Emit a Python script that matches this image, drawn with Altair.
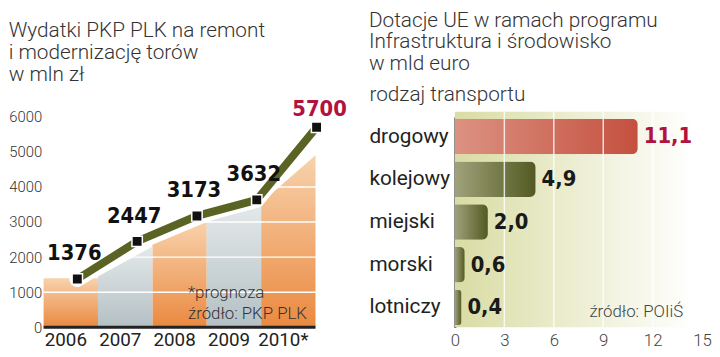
import json
import altair as alt
import pandas as pd

# ---------------- data ----------------
years = ["2006", "2007", "2008", "2009", "2010*"]
spending = [1376, 2447, 3173, 3632, 5700]
band_top_start = [1400, 1450, 2350, 3000, 3550]
band_top_end = [1400, 2300, 3000, 3500, 4900]
y_ticks = [0, 1000, 2000, 3000, 4000, 5000, 6000]

transport = ["drogowy", "kolejowy", "miejski", "morski", "lotniczy"]
subsidy = [11.1, 4.9, 2.0, 0.6, 0.4]
x_ticks = [0, 3, 6, 9, 12, 15]
grid_x = [3, 6, 9, 12]

LIGHT = "Roboto"
BOLD = "Liberation Sans Narrow, DejaVu Sans Condensed, sans-serif"
BSIZE = 22

# ---------------- left chart ----------------
LW, LH = 297, 213
line_df = pd.DataFrame({"idx": list(range(len(years))), "year": years, "val": spending})
band_rows = []
for i in range(len(years)):
    band_rows.append({"band": i, "xpos": i, "val": band_top_start[i]})
    band_rows.append({"band": i, "xpos": i + 1, "val": band_top_end[i]})
band_df = pd.DataFrame(band_rows)
grid_df = pd.DataFrame({"val": y_ticks[1:]})
base_df = pd.DataFrame({"xpos": [0], "xend": [len(years)], "val": [0]})

xscale = alt.Scale(domain=[0, 5.4], nice=False, zero=False)
yscale = alt.Scale(domain=[0, 6000], nice=False)
label_vals = [i + 0.4 for i in range(len(years))]
xaxis = alt.Axis(values=label_vals, labelExpr=f"{json.dumps(years)}[round(datum.value - 0.4)]",
                 title=None, domain=False, ticks=False, grid=False, labelPadding=3,
                 labelFont=LIGHT, labelFontSize=19, labelColor="#222", labelFlush=False)
yaxis = alt.Axis(values=y_ticks, format="d", title=None, domain=False, ticks=False, grid=False,
                 labelPadding=2, labelFont=LIGHT, labelFontWeight=300, labelFontSize=15,
                 labelColor="#333")
X = alt.X("xpos:Q", scale=xscale, axis=xaxis)
Y = alt.Y("val:Q", scale=yscale, axis=yaxis, stack=None)

orange_grad = alt.Gradient(gradient="linear", x1=0, x2=0, y1=1, y2=0,
                           stops=[alt.GradientStop(color="#ea8940", offset=0),
                                  alt.GradientStop(color="#f8d2ac", offset=1)])
gray_grad = alt.Gradient(gradient="linear", x1=0, x2=0, y1=1, y2=0,
                         stops=[alt.GradientStop(color="#b4c0c4", offset=0),
                                alt.GradientStop(color="#e4e9ea", offset=1)])

orange = alt.Chart(band_df).transform_filter("datum.band % 2 == 0").mark_area(
    color=orange_grad).encode(x=X, y=Y, detail="band:N")
gray = alt.Chart(band_df).transform_filter("datum.band % 2 == 1").mark_area(
    color=gray_grad).encode(x=X, y=Y, detail="band:N")
grid = alt.Chart(grid_df).mark_rule(color="white", strokeWidth=1.5).encode(
    y=Y, x=alt.value(0), x2=alt.value(LW))
baseline = alt.Chart(base_df).mark_rule(color="#222", strokeWidth=3).encode(
    x=X, x2="xend:Q", y=Y)

pts = alt.Chart(line_df).transform_calculate(xpos="0.62 + 1.1 * datum.idx")
halo = pts.mark_line(color="white", strokeWidth=16, strokeCap="round", strokeJoin="round").encode(x=X, y=Y)
line = pts.mark_line(color="#5b6324", strokeWidth=8, strokeJoin="round").encode(x=X, y=Y)
marks = pts.mark_point(shape="square", filled=True, size=110, color="#111",
                       stroke="white", strokeWidth=1.5, opacity=1).encode(x=X, y=Y)
labels = pts.transform_filter("datum.idx < 4").mark_text(
    font=BOLD, fontWeight="bold", fontSize=BSIZE, color="#111", dy=-26, dx=-3, baseline="middle"
).encode(x=X, y=Y, text="val:Q")
label_last = pts.transform_filter("datum.idx == 4").mark_text(
    font=BOLD, fontWeight="bold", fontSize=BSIZE, color="#b3123e", dy=-18, dx=3, baseline="middle"
).encode(x=X, y=Y, text="val:Q")
note = alt.Chart(pd.DataFrame({"t": ["*prognoza\nźródło: PKP PLK"]})).mark_text(
    align="left", baseline="top", lineBreak="\n", lineHeight=22, font=LIGHT,
    fontWeight=300, fontSize=17, color="#333"
).encode(text="t:N", x=alt.value(146), y=alt.value(170))

left = alt.layer(orange, gray, grid, baseline, note, halo, line, marks, labels, label_last).properties(
    width=LW, height=LH,
    title=alt.TitleParams(text=["Wydatki PKP PLK na remont", "i modernizację torów", "w mln zł"],
                          anchor="start", frame="bounds", font=LIGHT, fontWeight=300,
                          fontSize=21, lineHeight=22, color="#333", offset=14))

# ---------------- right chart ----------------
RW, RH = 250, 213
bar_df = pd.DataFrame({"kind": transport, "value": subsidy})
rx = alt.Scale(domain=[0, 15], nice=False)
ry = alt.Scale(domain=transport, paddingInner=0.17, paddingOuter=0.05)
rxaxis = alt.Axis(values=x_ticks, title=None, domain=False, ticks=False, grid=False,
                  labelPadding=5, labelFont=LIGHT, labelFontWeight=300, labelFontSize=17,
                  labelColor="#444", labelFlush=False)
ryaxis = alt.Axis(title="rodzaj transportu", titleAngle=0, titleX=-87, titleY=-16,
                  titleAlign="left", titleBaseline="alphabetic", titleFont=LIGHT,
                  titleFontWeight=300, titleFontSize=21, titleColor="#333",
                  labelAlign="left", labelPadding=87, tickSize=0, ticks=False,
                  labelFont=LIGHT, labelFontSize=21, labelColor="#222", labelBaseline="middle",
                  domain=True, domainColor="#333", domainWidth=2, grid=False)
RX = alt.X("value:Q", scale=rx, axis=rxaxis)
RY = alt.Y("kind:N", scale=ry, sort=transport, axis=ryaxis)

bg_grad = alt.Gradient(gradient="linear", x1=0, x2=1, y1=0, y2=0,
                       stops=[alt.GradientStop(color="#d9dca4", offset=0),
                              alt.GradientStop(color="#ffffff", offset=1)])
bg = alt.Chart(pd.DataFrame({"a": [0]})).mark_rect(color=bg_grad).encode(
    x=alt.value(0), x2=alt.value(RW - 8), y=alt.value(-5), y2=alt.value(RH))
rgrid = alt.Chart(pd.DataFrame({"value": grid_x})).mark_rule(
    color="white", strokeWidth=1.5, opacity=0.8).encode(x=RX, y=alt.value(-5), y2=alt.value(RH))

red_grad = alt.Gradient(gradient="linear", x1=0, x2=1, y1=0, y2=0,
                        stops=[alt.GradientStop(color="#dc9282", offset=0),
                               alt.GradientStop(color="#c4503f", offset=1)])
olive_grad = alt.Gradient(gradient="linear", x1=0, x2=1, y1=0, y2=0,
                          stops=[alt.GradientStop(color="#a0a27a", offset=0),
                                 alt.GradientStop(color="#525a22", offset=1)])
bars_red = alt.Chart(bar_df).transform_filter("datum.kind == 'drogowy'").mark_bar(
    color=red_grad, cornerRadiusEnd=6).encode(x=RX, y=RY)
bars_olive = alt.Chart(bar_df).transform_filter("datum.kind != 'drogowy'").mark_bar(
    color=olive_grad, cornerRadiusEnd=6).encode(x=RX, y=RY)
vals = alt.Chart(bar_df).transform_calculate(
    lab="replace(format(datum.value, '.1f'), '.', ',')"
).mark_text(align="left", baseline="middle", dx=6, font=BOLD, fontWeight="bold", fontSize=BSIZE).encode(
    x=RX, y=RY, text="lab:N",
    color=alt.condition("datum.kind == 'drogowy'", alt.value("#b3123e"), alt.value("#1a1a1a")))
src = alt.Chart(pd.DataFrame({"t": ["źródło: POIiŚ"]})).mark_text(
    align="left", baseline="middle", font=LIGHT, fontWeight=300, fontSize=17, color="#444"
).encode(text="t:N", x=alt.value(136), y=alt.value(198))

right = alt.layer(bg, bars_red, bars_olive, rgrid, vals, src).properties(
    width=RW, height=RH,
    title=alt.TitleParams(text=["Dotacje UE w ramach programu", "Infrastruktura i środowisko", "w mld euro"],
                          anchor="start", frame="bounds", font=LIGHT, fontWeight=300,
                          fontSize=21, lineHeight=22, color="#333", offset=10))

chart = alt.hconcat(left, right, spacing=22).properties(padding=0).configure_view(stroke=None)
chart.save("out.html", embed_options={"renderer": "svg", "actions": False})
